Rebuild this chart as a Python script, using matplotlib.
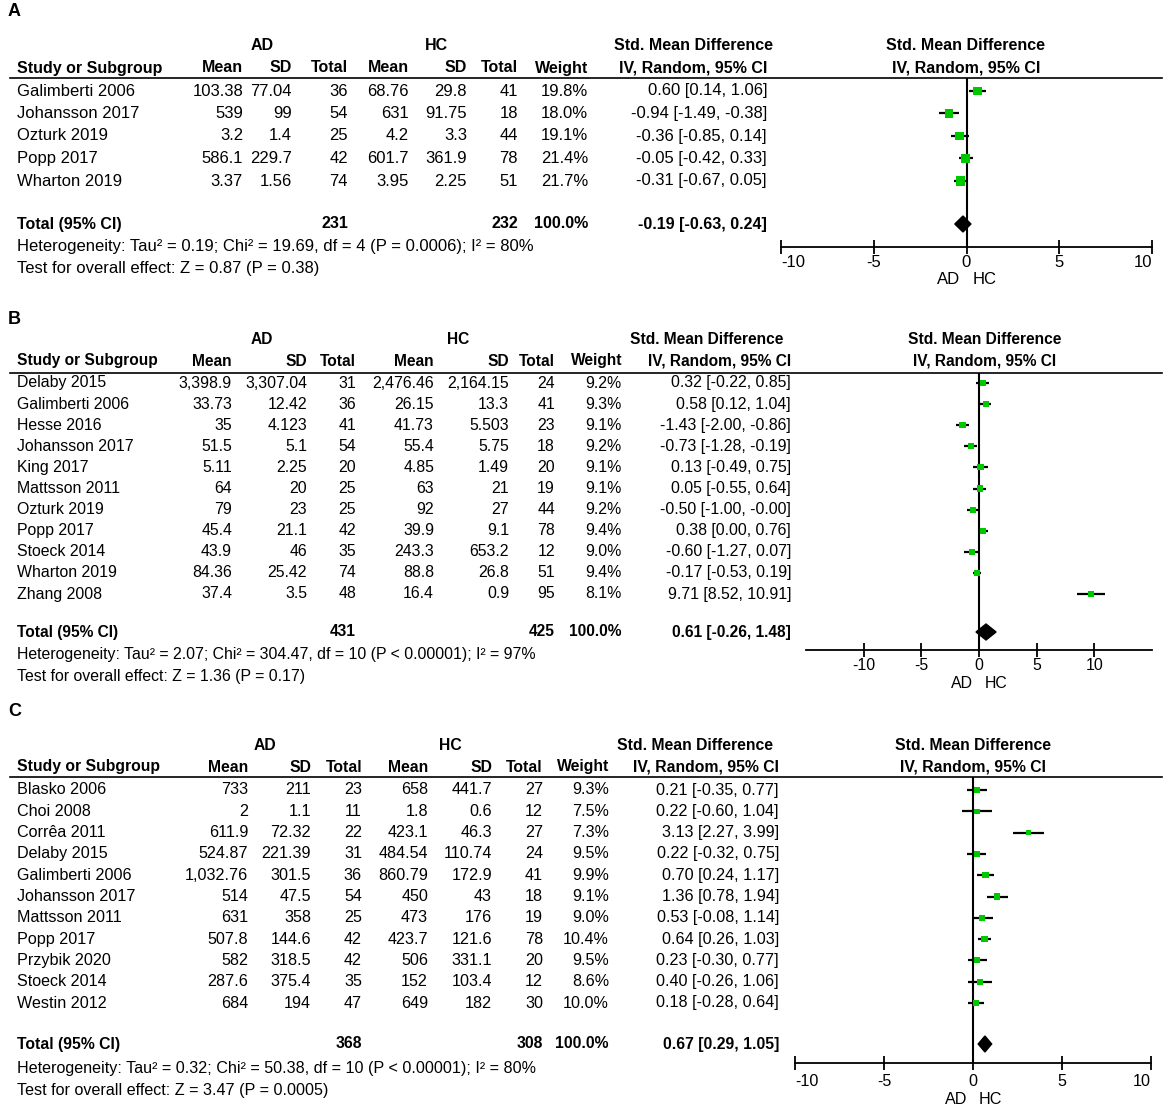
import matplotlib.pyplot as plt
import numpy as np

plt.rcParams['font.family'] = ['Liberation Sans', 'DejaVu Sans']
plt.rcParams['axes.unicode_minus'] = False

GREEN = '#00c800'

# ---------------- panel A ----------------
a_study = ["Galimberti 2006", "Johansson 2017", "Ozturk 2019", "Popp 2017", "Wharton 2019"]
a_ad_mean = [103.38, 539, 3.2, 586.1, 3.37]
a_ad_sd = [77.04, 99, 1.4, 229.7, 1.56]
a_ad_n = [36, 54, 25, 42, 74]
a_hc_mean = [68.76, 631, 4.2, 601.7, 3.95]
a_hc_sd = [29.8, 91.75, 3.3, 361.9, 2.25]
a_hc_n = [41, 18, 44, 78, 51]
a_weight = [19.8, 18.0, 19.1, 21.4, 21.7]
a_smd = [0.60, -0.94, -0.36, -0.05, -0.31]
a_lo = [0.14, -1.49, -0.85, -0.42, -0.67]
a_hi = [1.06, -0.38, 0.14, 0.33, 0.05]
a_total = [231, 232, -0.19, -0.63, 0.24]
a_het = "Heterogeneity: Tau² = 0.19; Chi² = 19.69, df = 4 (P = 0.0006); I² = 80%"
a_test = "Test for overall effect: Z = 0.87 (P = 0.38)"

# ---------------- panel B ----------------
b_study = ["Delaby 2015", "Galimberti 2006", "Hesse 2016", "Johansson 2017", "King 2017",
           "Mattsson 2011", "Ozturk 2019", "Popp 2017", "Stoeck 2014", "Wharton 2019", "Zhang 2008"]
b_ad_mean = [3398.9, 33.73, 35, 51.5, 5.11, 64, 79, 45.4, 43.9, 84.36, 37.4]
b_ad_sd = [3307.04, 12.42, 4.123, 5.1, 2.25, 20, 23, 21.1, 46, 25.42, 3.5]
b_ad_n = [31, 36, 41, 54, 20, 25, 25, 42, 35, 74, 48]
b_hc_mean = [2476.46, 26.15, 41.73, 55.4, 4.85, 63, 92, 39.9, 243.3, 88.8, 16.4]
b_hc_sd = [2164.15, 13.3, 5.503, 5.75, 1.49, 21, 27, 9.1, 653.2, 26.8, 0.9]
b_hc_n = [24, 41, 23, 18, 20, 19, 44, 78, 12, 51, 95]
b_weight = [9.2, 9.3, 9.1, 9.2, 9.1, 9.1, 9.2, 9.4, 9.0, 9.4, 8.1]
b_smd = [0.32, 0.58, -1.43, -0.73, 0.13, 0.05, -0.50, 0.38, -0.60, -0.17, 9.71]
b_lo = [-0.22, 0.12, -2.00, -1.28, -0.49, -0.55, -1.00, 0.00, -1.27, -0.53, 8.52]
b_hi = [0.85, 1.04, -0.86, -0.19, 0.75, 0.64, -0.0, 0.76, 0.07, 0.19, 10.91]
b_total = [431, 425, 0.61, -0.26, 1.48]
b_het = "Heterogeneity: Tau² = 2.07; Chi² = 304.47, df = 10 (P < 0.00001); I² = 97%"
b_test = "Test for overall effect: Z = 1.36 (P = 0.17)"

# ---------------- panel C ----------------
c_study = ["Blasko 2006", "Choi 2008", "Corrêa 2011", "Delaby 2015", "Galimberti 2006",
           "Johansson 2017", "Mattsson 2011", "Popp 2017", "Przybik 2020", "Stoeck 2014", "Westin 2012"]
c_ad_mean = [733, 2, 611.9, 524.87, 1032.76, 514, 631, 507.8, 582, 287.6, 684]
c_ad_sd = [211, 1.1, 72.32, 221.39, 301.5, 47.5, 358, 144.6, 318.5, 375.4, 194]
c_ad_n = [23, 11, 22, 31, 36, 54, 25, 42, 42, 35, 47]
c_hc_mean = [658, 1.8, 423.1, 484.54, 860.79, 450, 473, 423.7, 506, 152, 649]
c_hc_sd = [441.7, 0.6, 46.3, 110.74, 172.9, 43, 176, 121.6, 331.1, 103.4, 182]
c_hc_n = [27, 12, 27, 24, 41, 18, 19, 78, 20, 12, 30]
c_weight = [9.3, 7.5, 7.3, 9.5, 9.9, 9.1, 9.0, 10.4, 9.5, 8.6, 10.0]
c_smd = [0.21, 0.22, 3.13, 0.22, 0.70, 1.36, 0.53, 0.64, 0.23, 0.40, 0.18]
c_lo = [-0.35, -0.60, 2.27, -0.32, 0.24, 0.78, -0.08, 0.26, -0.30, -0.26, -0.28]
c_hi = [0.77, 1.04, 3.99, 0.75, 1.17, 1.94, 1.14, 1.03, 0.77, 1.06, 0.64]
c_total = [368, 308, 0.67, 0.29, 1.05]
c_het = "Heterogeneity: Tau² = 0.32; Chi² = 50.38, df = 10 (P < 0.00001); I² = 80%"
c_test = "Test for overall effect: Z = 3.47 (P = 0.0005)"

panels = [
    dict(label="A", study=a_study, cols=[a_ad_mean, a_ad_sd, a_ad_n, a_hc_mean, a_hc_sd, a_hc_n],
         weight=a_weight, smd=a_smd, lo=a_lo, hi=a_hi, total=a_total, het=a_het, test=a_test,
         fs=12, fsb=11.5, pad=1, adoff=-33,
         ylab=12, yh1=46, yh2=68, yline=78, row0=91, dy=22.5, ytot=224, yhet=247, ytest=269,
         colx=[243, 292, 348, 409, 467, 518, 588, 767], adx=262, hcx=436, smdx=693, fx=966,
         fxlim=(-10, 10), fpx=(781, 1152), yaxis=247, spine=(-10, 10)),
    dict(label="B", study=b_study, cols=[b_ad_mean, b_ad_sd, b_ad_n, b_hc_mean, b_hc_sd, b_hc_n],
         weight=b_weight, smd=b_smd, lo=b_lo, hi=b_hi, total=b_total, het=b_het, test=b_test,
         fs=11.4, fsb=11.2, pad=0.5, adoff=-34,
         ylab=320, yh1=340, yh2=361, yline=373, row0=383, dy=21.1, ytot=632, yhet=655, ytest=676,
         colx=[232, 307, 356, 434, 509, 555, 622, 791], adx=262, hcx=458, smdx=707, fx=985,
         fxlim=(-15, 15), fpx=(806, 1152), yaxis=650, spine=(-15, 15)),
    dict(label="C", study=c_study, cols=[c_ad_mean, c_ad_sd, c_ad_n, c_hc_mean, c_hc_sd, c_hc_n],
         weight=c_weight, smd=c_smd, lo=c_lo, hi=c_hi, total=c_total, het=c_het, test=c_test,
         fs=11.6, fsb=11.3, pad=3, adoff=-37,
         ylab=712, yh1=746, yh2=767, yline=777, row0=790, dy=21.3, ytot=1044, yhet=1068, ytest=1090,
         colx=[248, 311, 362, 428, 492, 543, 609, 779], adx=265, hcx=450, smdx=695, fx=973,
         fxlim=(-10, 10), fpx=(795, 1151), yaxis=1063, spine=(-10, 10)),
]

W, H = 1170, 1110
fig = plt.figure(figsize=(W / 100, H / 100), dpi=100)
canvas = fig.add_axes([0, 0, 1, 1])
canvas.set_xlim(0, W)
canvas.set_ylim(H, 0)
canvas.axis('off')

headers = ["Mean", "SD", "Total", "Mean", "SD", "Total", "Weight", "IV, Random, 95% CI"]
XL = 17  # left edge of the study column


def fmt(v):
    return f"{v:,}"


for p in panels:
    FS, FSB = p['fs'], p['fsb']
    canvas.text(8, p['ylab'], p['label'], fontsize=13, fontweight='bold', va='center')
    # header rows
    for txt, x in [("AD", p['adx']), ("HC", p['hcx']), ("Std. Mean Difference", p['smdx']),
                   ("Std. Mean Difference", p['fx'])]:
        canvas.text(x, p['yh1'], txt, fontsize=FSB, fontweight='bold', ha='center', va='center')
    canvas.text(XL, p['yh2'], "Study or Subgroup", fontsize=FSB, fontweight='bold', va='center')
    for txt, x in zip(headers, p['colx']):
        canvas.text(x, p['yh2'], txt, fontsize=FSB, fontweight='bold', ha='right', va='center')
    canvas.text(p['fx'], p['yh2'], "IV, Random, 95% CI", fontsize=FSB, fontweight='bold',
                ha='center', va='center')
    canvas.plot([10, 1162], [p['yline'], p['yline']], color='black', lw=1.2)

    # study rows
    ys = p['row0'] + p['dy'] * np.arange(len(p['study']))
    for i, y in enumerate(ys):
        canvas.text(XL, y, p['study'][i], fontsize=FS, va='center')
        for col, x in zip(p['cols'], p['colx'][:6]):
            canvas.text(x, y, fmt(col[i]), fontsize=FS, ha='right', va='center')
        canvas.text(p['colx'][6], y, f"{p['weight'][i]:.1f}%", fontsize=FS, ha='right', va='center')
        canvas.text(p['colx'][7], y, f"{p['smd'][i]:.2f} [{p['lo'][i]:.2f}, {p['hi'][i]:.2f}]",
                    fontsize=FS, ha='right', va='center')

    # total row
    n_ad, n_hc, m, lo, hi = p['total']
    yt = p['ytot']
    canvas.text(XL, yt, "Total (95% CI)", fontsize=FSB, fontweight='bold', va='center')
    canvas.text(p['colx'][2], yt, str(n_ad), fontsize=FSB, fontweight='bold', ha='right', va='center')
    canvas.text(p['colx'][5], yt, str(n_hc), fontsize=FSB, fontweight='bold', ha='right', va='center')
    canvas.text(p['colx'][6], yt, "100.0%", fontsize=FSB, fontweight='bold', ha='right', va='center')
    canvas.text(p['colx'][7], yt, f"{m:.2f} [{lo:.2f}, {hi:.2f}]", fontsize=FSB, fontweight='bold',
                ha='right', va='center')
    canvas.text(XL, p['yhet'], p['het'], fontsize=FS, va='center')
    canvas.text(XL, p['ytest'], p['test'], fontsize=FS, va='center')

    # forest plot axes, y in figure pixels
    x0, x1 = p['fpx']
    top, bot = p['yline'], p['yaxis']
    ax = fig.add_axes([x0 / W, 1 - bot / H, (x1 - x0) / W, (bot - top) / H])
    ax.patch.set_alpha(0)
    ax.set_xlim(*p['fxlim'])
    ax.set_ylim(bot, top)
    for s in ['top', 'right', 'left']:
        ax.spines[s].set_visible(False)
    ax.spines['bottom'].set_linewidth(1.3)
    ax.spines['bottom'].set_bounds(*p['spine'])
    ax.set_yticks([])
    ax.set_xticks([-10, -5, 0, 5, 10])
    ax.tick_params(axis='x', direction='inout', length=10, width=1.3, labelsize=FS, pad=p['pad'])
    if p['fxlim'][0] == -10:
        # end labels pulled inwards, as in the original
        labels = ax.get_xticklabels()
        labels[0].set_horizontalalignment('left')
        labels[-1].set_horizontalalignment('right')
    ax.axvline(0, color='black', lw=1.5)

    ax.hlines(ys, p['lo'], p['hi'], color='black', lw=1.6, zorder=3)
    side_pt = 2.0 * np.sqrt(np.array(p['weight'])) / 1.389
    ax.scatter(p['smd'], ys, s=side_pt ** 2, marker='s', color=GREEN, zorder=4, linewidths=0)
    hh = 8
    ax.fill([lo, m, hi, m], [yt, yt - hh, yt, yt + hh], color='black', zorder=4, clip_on=False)

    ax.annotate("AD", xy=(0, 0), xycoords=('data', 'axes fraction'), xytext=(-6, p['adoff']),
                textcoords='offset pixels', ha='right', va='center', fontsize=FS)
    ax.annotate("HC", xy=(0, 0), xycoords=('data', 'axes fraction'), xytext=(6, p['adoff']),
                textcoords='offset pixels', ha='left', va='center', fontsize=FS)

fig.savefig("out.png", dpi=100)
